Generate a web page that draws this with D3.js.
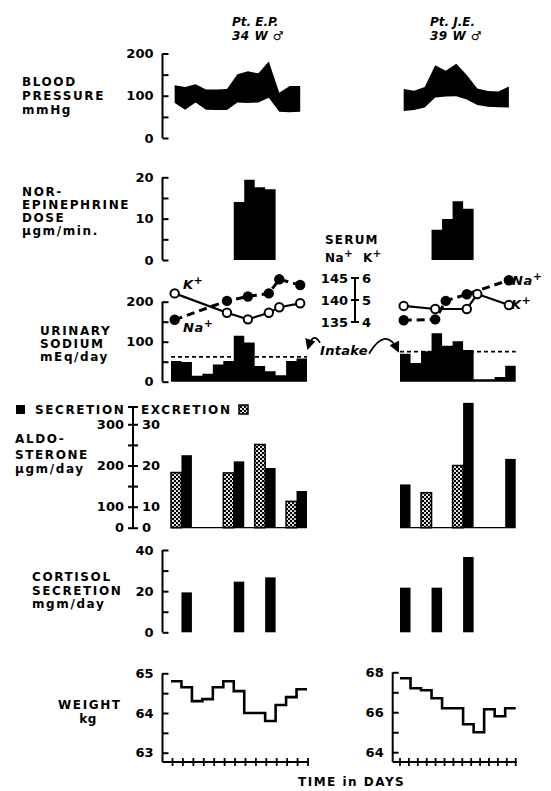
<!DOCTYPE html>
<html>
<head>
<meta charset="utf-8">
<script src="https://cdn.jsdelivr.net/npm/d3@7"></script>
<style>
  html, body { margin: 0; padding: 0; background: #fff; }
  svg { display: block; }
  text { font-family: "DejaVu Sans", "Liberation Sans", sans-serif; font-weight: bold; fill: #000; }
</style>
</head>
<body>
<svg id="chart" width="551" height="791"></svg>
<script>
// ---------------- data ----------------
const daysEP = 13;
const daysJE = 11;

// blood pressure, mmHg (daily systolic / diastolic)
const bpUpperEP = [125, 121, 127, 115, 115, 116, 151, 158, 153, 181, 107, 123, 123];
const bpLowerEP = [83, 67, 84, 67, 66, 66, 84, 83, 84, 95, 62, 61, 62];
const bpUpperJE = [116, 112, 121, 172, 159, 176, 149, 117, 111, 110, 122];
const bpLowerJE = [64, 66, 72, 96, 98, 99, 91, 78, 74, 73, 72];

// norepinephrine dose, µgm/min
const norepiDaysEP = [6, 7, 8, 9];
const norepiEP = [14.0, 19.4, 17.6, 17.1];
const norepiDaysJE = [3, 4, 5, 6];
const norepiJE = [7.3, 9.9, 14.2, 12.4];

// serum sodium / potassium, mEq/L
const serumDaysEP = [0, 5, 7, 9, 10, 12];
const naEP = [135.5, 139.8, 140.8, 141.5, 144.7, 143.4];
const kEP = [5.3, 4.42, 4.12, 4.42, 4.67, 4.85];
const naDaysJE = [0, 3, 4, 6, 10];
const naJE = [135.4, 135.6, 139.8, 141.3, 144.5];
const kDaysJE = [0, 3, 6, 7, 10];
const kJE = [4.73, 4.59, 4.59, 5.27, 4.77];

// urinary sodium, mEq/day, and sodium intake
const urineNaEP = [52, 49, 15, 20, 43, 52, 115, 98, 39, 26, 16, 52, 58];
const urineNaJE = [70, 47, 76, 121, 90, 101, 79, 6, 6, 12, 40];
const intakeEP = 62;
const intakeJE = 75;

// aldosterone secretion (µgm/day) and excretion (µgm/day)
const aldoSecDaysEP = [1, 6, 9, 12];
const aldoSecEP = [225, 210, 194, 138];
const aldoExcDaysEP = [0, 5, 8, 11];
const aldoExcEP = [18.3, 18.2, 25.1, 11.3];
const aldoSecDaysJE = [0, 6, 10];
const aldoSecJE = [154, 352, 216];
const aldoExcDaysJE = [2, 5];
const aldoExcJE = [13.4, 20.0];

// cortisol secretion, mgm/day
const cortDaysEP = [1, 6, 9];
const cortEP = [19.4, 24.6, 26.7];
const cortDaysJE = [0, 3, 6];
const cortJE = [21.7, 21.7, 36.6];

// body weight, kg
const weightEP = [64.8, 64.65, 64.3, 64.35, 64.65, 64.8, 64.55, 64.0, 64.0, 63.8, 64.2, 64.4, 64.6];
const weightJE = [67.7, 67.2, 67.1, 66.7, 66.2, 66.2, 65.4, 65.0, 66.15, 65.8, 66.2];

// axis tick values and labelled ticks
const bpTicks = [0, 50, 100, 150, 200], bpLabels = [0, 100, 200];
const neTicks = [0, 5, 10, 15, 20], neLabels = [0, 10, 20];
const unaTicks = [0, 50, 100, 150, 200], unaLabels = [0, 100, 200];
const naTicks = [135, 140, 145], kTicks = [4, 5, 6];
const aldoTicks = [0, 100, 150, 200, 250, 300], aldoLabels = [0, 100, 200, 300];
const aldoExcTicks = [0, 10, 15, 20, 25, 30], aldoExcLabels = [0, 10, 20, 30];
const cortTicks = [0, 10, 20, 30, 40], cortLabels = [0, 20, 40];
const wTicksEP = [63, 63.5, 64, 64.5, 65], wLabelsEP = [63, 64, 65];
const wTicksJE = [64, 65, 66, 67, 68], wLabelsJE = [64, 66, 68];

// ---------------- scales ----------------
const svg = d3.select("#chart");
const xEP = d3.scaleLinear().domain([0, daysEP]).range([171, 307]);
const xJE = d3.scaleLinear().domain([0, daysJE]).range([400, 515.7]);
const PT = 0.35;            // point readings sit a little into each day
const AX = 162.5;           // left column of y axes
const AX_ALDO = 133;
const AX_WJE = 392.7;
const AX_SERUM = 355;
const LS = 1.6;             // letter spacing of the bold captions

const yBP = d3.scaleLinear().domain([0, 200]).range([138, 53.5]);
const yNE = d3.scaleLinear().domain([0, 20]).range([260, 177.3]);
const yUNa = d3.scaleLinear().domain([0, 200]).range([381.7, 301.7]);
const yNa = d3.scaleLinear().domain([135, 145]).range([322, 278]);
const yK = d3.scaleLinear().domain([4, 6]).range([322, 278]);
// aldosterone axis is broken below 100 (labelled 0 at the base)
const yAldo = d3.scaleLinear().domain([0, 100, 300]).range([527.7, 506.7, 424.3]);
const yAldoExc = d3.scaleLinear().domain([0, 10, 30]).range([527.7, 506.7, 424.3]);
const yCort = d3.scaleLinear().domain([0, 40]).range([632.3, 550]);
const yWEP = d3.scaleLinear().domain([63, 65]).range([752.7, 673.3]);
const yWJE = d3.scaleLinear().domain([64, 68]).range([752.2, 672.3]);
const WX_AXIS_Y = 762;

// ---------------- helpers ----------------
const defs = svg.append("defs");
const pat = defs.append("pattern").attr("id", "stipple")
  .attr("patternUnits", "userSpaceOnUse").attr("width", 4).attr("height", 4);
pat.append("rect").attr("width", 4).attr("height", 4).attr("fill", "#000");
pat.append("circle").attr("cx", 1).attr("cy", 1).attr("r", 1.05).attr("fill", "#fff");
pat.append("circle").attr("cx", 3).attr("cy", 3).attr("r", 1.05).attr("fill", "#fff");

defs.append("marker").attr("id", "arrow").attr("viewBox", "0 0 10 10")
  .attr("refX", 8).attr("refY", 5).attr("markerWidth", 6).attr("markerHeight", 6)
  .attr("orient", "auto-start-reverse")
  .append("path").attr("d", "M0,0 L10,5 L0,10 Z").attr("fill", "#000");

function text(x, y, s, o = {}) {
  const t = svg.append("text").attr("x", x).attr("y", y).text(s)
    .attr("font-size", o.size || 12)
    .attr("letter-spacing", o.ls === undefined ? LS : o.ls)
    .attr("text-anchor", o.anchor || "start");
  if (o.italic) t.attr("font-style", "italic");
  return t;
}

function block(lines, x, baselines, o) {
  lines.forEach((s, i) => text(x, baselines[i], s, o));
}

// vertical axis with inward ticks and labels on the left
function leftAxis(x, scale, ticks, labels, top, bottom, o = {}) {
  const ax = d3.axisLeft(scale).tickValues(ticks)
    .tickSizeInner(o.cross ? 5 : -6).tickSizeOuter(0).tickPadding(o.cross ? 4 : 9)
    .tickFormat(d => labels.includes(d) ? d : "");
  const g = svg.append("g").attr("transform", `translate(${x},0)`).call(ax)
    .attr("font-size", o.size || 13).attr("font-family", null);
  g.select(".domain").remove();
  g.selectAll(".tick line").attr("stroke-width", 2);
  g.append("line").attr("y1", top).attr("y2", bottom)
    .attr("stroke", "#000").attr("stroke-width", 2);
  return g;
}

function rightLabels(x, scale, ticks, labels, o = {}) {
  const ax = d3.axisRight(scale).tickValues(ticks)
    .tickSizeInner(5).tickSizeOuter(0).tickPadding(4)
    .tickFormat(d => labels.includes(d) ? d : "");
  const g = svg.append("g").attr("transform", `translate(${x},0)`).call(ax)
    .attr("font-size", o.size || 13).attr("font-family", null);
  g.select(".domain").remove();
  g.selectAll(".tick line").attr("stroke-width", 2);
  return g;
}

function bpBand(x, up, lo) {
  const pts = up.map((u, i) => ({ d: i + PT, u, l: lo[i] }));
  svg.append("path").datum(pts)
    .attr("d", d3.area().x(p => x(p.d)).y0(p => yBP(p.l)).y1(p => yBP(p.u)))
    .attr("fill", "#000");
}

function stepBlock(x, y, days, vals) {
  const pts = days.map((d, i) => ({ d, v: vals[i] }));
  pts.push({ d: days[days.length - 1] + 1, v: vals[vals.length - 1] });
  svg.append("path").datum(pts)
    .attr("d", d3.area().curve(d3.curveStepAfter).x(p => x(p.d)).y0(y(0)).y1(p => y(p.v)))
    .attr("fill", "#000");
}

function serumLine(x, y, days, vals, filled) {
  const pts = days.map((d, i) => ({ d: d + PT, v: vals[i] }));
  svg.append("path").datum(pts)
    .attr("d", d3.line().x(p => x(p.d)).y(p => y(p.v)))
    .attr("fill", "none").attr("stroke", "#000")
    .attr("stroke-width", filled ? 3 : 2.2)
    .attr("stroke-dasharray", filled ? "8,5" : null);
  svg.selectAll(null).data(pts).join("circle")
    .attr("cx", p => x(p.d)).attr("cy", p => y(p.v)).attr("r", 4.2)
    .attr("fill", filled ? "#000" : "#fff").attr("stroke", "#000").attr("stroke-width", 2);
}

function intakeLine(x, days, v) {
  svg.append("line").attr("x1", x(0)).attr("x2", x(days)).attr("y1", yUNa(v)).attr("y2", yUNa(v))
    .attr("stroke", "#000").attr("stroke-width", 1.8).attr("stroke-dasharray", "4,3");
}

function bars(x, y, days, vals, excretion) {
  svg.selectAll(null).data(days.map((d, i) => ({ d, v: vals[i] }))).join("rect")
    .attr("x", p => x(p.d)).attr("width", p => x(p.d + 1) - x(p.d))
    .attr("y", p => y(p.v)).attr("height", p => y(0) - y(p.v))
    .attr("fill", excretion ? "url(#stipple)" : "#000")
    .attr("stroke", excretion ? "#000" : "none").attr("stroke-width", 1.5);
}

function weightLine(x, y, vals) {
  const pts = vals.map((v, i) => ({ d: i, v }));
  pts.push({ d: vals.length, v: vals[vals.length - 1] });
  svg.append("path").datum(pts)
    .attr("d", d3.line().curve(d3.curveStepAfter).x(p => x(p.d)).y(p => y(p.v)))
    .attr("fill", "none").attr("stroke", "#000").attr("stroke-width", 2.6);
}

function dayAxis(x0, tickScale, n) {
  const g = svg.append("g");
  g.append("line").attr("x1", x0).attr("x2", tickScale(n) + 1)
    .attr("y1", WX_AXIS_Y).attr("y2", WX_AXIS_Y).attr("stroke", "#000").attr("stroke-width", 2);
  g.selectAll(null).data(d3.range(n + 1)).join("line")
    .attr("x1", d => tickScale(d)).attr("x2", d => tickScale(d))
    .attr("y1", WX_AXIS_Y - 4).attr("y2", WX_AXIS_Y + 4)
    .attr("stroke", "#000").attr("stroke-width", 1.8);
}

function ion(x, y, base) {
  const t = svg.append("text").attr("x", x).attr("y", y)
    .attr("font-size", 13).attr("font-style", "italic").attr("letter-spacing", 0.5);
  t.append("tspan").text(base);
  t.append("tspan").text("+").attr("dy", -5).attr("font-size", 11);
}

// ---------------- header ----------------
text(232, 26, "Pt. E.P.", { italic: true, size: 12, ls: 0 });
text(232, 40, "34 W \u2642", { italic: true, size: 12, ls: 0.5 });
text(430, 26, "Pt. J.E.", { italic: true, size: 12, ls: 0 });
text(430, 40, "39 W \u2642", { italic: true, size: 12, ls: 0.5 });

// ---------------- blood pressure ----------------
block(["BLOOD", "PRESSURE", "mmHg"], 22, [86, 100, 114], {});
leftAxis(AX, yBP, bpTicks, bpLabels, yBP(200), yBP(0));
bpBand(xEP, bpUpperEP, bpLowerEP);
bpBand(xJE, bpUpperJE, bpLowerJE);

// ---------------- norepinephrine ----------------
block(["NOR-", "EPINEPHRINE", "DOSE", "\u00b5gm/min."], 22, [196, 209, 222, 235], {});
leftAxis(AX, yNE, neTicks, neLabels, yNE(20), yNE(0));
stepBlock(xEP, yNE, norepiDaysEP, norepiEP);
stepBlock(xJE, yNE, norepiDaysJE, norepiJE);

// ---------------- serum electrolytes ----------------
text(325, 244, "SERUM", { ls: 1.2 });
const hdr = svg.append("text").attr("x", 325).attr("y", 262).attr("font-size", 12).attr("letter-spacing", 0.5);
hdr.append("tspan").text("Na");
hdr.append("tspan").text("+").attr("dy", -5).attr("font-size", 10);
hdr.append("tspan").text("K").attr("dy", 5).attr("dx", 10);
hdr.append("tspan").text("+").attr("dy", -5).attr("font-size", 10);

const sg = svg.append("g").attr("transform", `translate(${AX_SERUM},0)`);
sg.append("line").attr("y1", yNa(145)).attr("y2", yNa(135)).attr("stroke", "#000").attr("stroke-width", 2);
sg.selectAll(null).data(naTicks).join("line")
  .attr("x1", -4).attr("x2", 4).attr("y1", d => yNa(d)).attr("y2", d => yNa(d))
  .attr("stroke", "#000").attr("stroke-width", 2);
sg.selectAll(null).data(naTicks).join("text")
  .attr("x", -7).attr("y", d => yNa(d)).attr("dy", "0.35em").attr("text-anchor", "end")
  .attr("font-size", 13).text(d => d);
sg.selectAll(null).data(kTicks).join("text")
  .attr("x", 7).attr("y", d => yK(d)).attr("dy", "0.35em")
  .attr("font-size", 13).text(d => d);

// ---------------- urinary sodium ----------------
block(["URINARY", "SODIUM", "mEq/day"], 40, [335, 348, 361], {});
leftAxis(AX, yUNa, unaTicks, unaLabels, yUNa(200), yUNa(0));
stepBlock(xEP, yUNa, d3.range(daysEP), urineNaEP);
stepBlock(xJE, yUNa, d3.range(daysJE), urineNaJE);
intakeLine(xEP, daysEP, intakeEP);
intakeLine(xJE, daysJE, intakeJE);

serumLine(xEP, yK, serumDaysEP, kEP, false);
serumLine(xEP, yNa, serumDaysEP, naEP, true);
serumLine(xJE, yNa, naDaysJE, naJE, true);
serumLine(xJE, yK, kDaysJE, kJE, false);
ion(183, 289, "K");
ion(183, 332, "Na");
ion(512, 285, "Na");
ion(511, 309, "K");

// intake annotation with arrows to both dashed lines
text(320, 355, "Intake", { italic: true, size: 13, ls: 0.3 });
const lx = xEP(daysEP), rx = xJE(0);
svg.append("path")
  .attr("d", `M${lx + 13},${yUNa(intakeEP) - 14} Q${lx + 6},${yUNa(intakeEP) - 26} ${lx + 1},${yUNa(intakeEP) - 9}`)
  .attr("fill", "none").attr("stroke", "#000").attr("stroke-width", 1.8).attr("marker-end", "url(#arrow)");
svg.append("path")
  .attr("d", `M${rx - 31},${yUNa(intakeJE) + 2} Q${rx - 14},${yUNa(intakeJE) - 26} ${rx - 2},${yUNa(intakeJE) - 1}`)
  .attr("fill", "none").attr("stroke", "#000").attr("stroke-width", 1.8).attr("marker-end", "url(#arrow)");

// ---------------- aldosterone ----------------
svg.append("rect").attr("x", 16).attr("y", 405).attr("width", 9).attr("height", 9).attr("fill", "#000");
text(35, 414, "SECRETION", {});
text(141, 414, "EXCRETION", {});
svg.append("rect").attr("x", 239).attr("y", 405).attr("width", 9).attr("height", 9)
  .attr("fill", "url(#stipple)").attr("stroke", "#000").attr("stroke-width", 1.5);
block(["ALDO-", "STERONE", "\u00b5gm/day"], 15, [443, 459, 473], {});

leftAxis(AX_ALDO, yAldo, aldoTicks, aldoLabels, 407, yAldo(0), { cross: true });
svg.append("line").attr("x1", AX_ALDO - 5).attr("x2", AX_ALDO + 5).attr("y1", 407).attr("y2", 407)
  .attr("stroke", "#000").attr("stroke-width", 2);
rightLabels(AX_ALDO, yAldoExc, aldoExcTicks, aldoExcLabels);

svg.append("line").attr("x1", xEP(0)).attr("x2", xEP(daysEP)).attr("y1", yAldo(0)).attr("y2", yAldo(0))
  .attr("stroke", "#000").attr("stroke-width", 1.2);
svg.append("line").attr("x1", xJE(0)).attr("x2", xJE(daysJE)).attr("y1", yAldo(0)).attr("y2", yAldo(0))
  .attr("stroke", "#000").attr("stroke-width", 1.2);
bars(xEP, yAldoExc, aldoExcDaysEP, aldoExcEP, true);
bars(xEP, yAldo, aldoSecDaysEP, aldoSecEP, false);
bars(xJE, yAldoExc, aldoExcDaysJE, aldoExcJE, true);
bars(xJE, yAldo, aldoSecDaysJE, aldoSecJE, false);

// ---------------- cortisol ----------------
block(["CORTISOL", "SECRETION", "mgm/day"], 32, [581, 595, 608], {});
leftAxis(AX, yCort, cortTicks, cortLabels, yCort(40), yCort(0));
bars(xEP, yCort, cortDaysEP, cortEP, false);
bars(xJE, yCort, cortDaysJE, cortJE, false);

// ---------------- weight ----------------
text(58, 709, "WEIGHT", {});
text(88, 723, "kg", { anchor: "middle", ls: 0.5 });
leftAxis(AX, yWEP, wTicksEP, wLabelsEP, yWEP(65), WX_AXIS_Y);
leftAxis(AX_WJE, yWJE, wTicksJE, wLabelsJE, yWJE(68), WX_AXIS_Y);
weightLine(xEP, yWEP, weightEP);
weightLine(xJE, yWJE, weightJE);
dayAxis(AX, d3.scaleLinear().domain([0, 13]).range([xEP(0) + 1.5, xEP(daysEP) + 1]), 13);
dayAxis(AX_WJE, d3.scaleLinear().domain([0, 13]).range(xJE.range()), 13);

text(298, 786, "TIME in DAYS", { size: 12, ls: 1.5 });
</script>
</body>
</html>
